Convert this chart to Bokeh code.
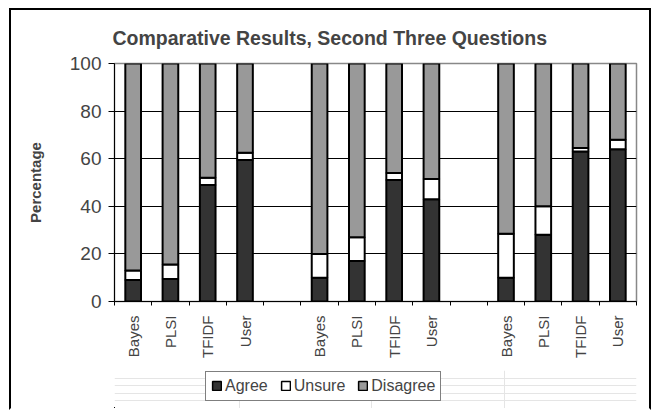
import math
from bokeh.plotting import figure
from bokeh.layouts import column
from bokeh.models import ColumnDataSource, FixedTicker, Legend, LegendItem, Range1d, Grid
from bokeh.embed import file_html
from bokeh.resources import INLINE

methods = ["Bayes", "PLSI", "TFIDF", "User"]
series = ["Agree", "Unsure", "Disagree"]
colors = ["#333333", "#ffffff", "#999999"]
agree_q1 = [9, 9.5, 49, 59.5]
agree_q2 = [10, 17, 51, 43]
agree_q3 = [10, 28, 63, 64]
unsure_q1 = [4, 6, 3, 3]
unsure_q2 = [10, 10, 3, 8.5]
unsure_q3 = [18.5, 12, 1.5, 4]
disagree_q1 = [87, 84.5, 48, 37.5]
disagree_q2 = [80, 73, 46, 48.5]
disagree_q3 = [71.5, 60, 35.5, 32]
y_ticks = [0, 20, 40, 60, 80, 100]

FONT = "Liberation Sans"

xs, labels = [], []
for g in range(3):
    for m, name in enumerate(methods):
        xs.append(g * 5 + m + 0.5)
        labels.append(name)

src = ColumnDataSource(dict(
    x=xs,
    Agree=agree_q1 + agree_q2 + agree_q3,
    Unsure=unsure_q1 + unsure_q2 + unsure_q3,
    Disagree=disagree_q1 + disagree_q2 + disagree_q3,
))

W = 638
p = figure(width=W, height=360, output_backend="svg", toolbar_location=None,
           x_range=Range1d(0, 14), y_range=Range1d(0, 100),
           min_border_left=103, min_border_right=13, min_border_top=53, min_border_bottom=69)

p.vbar_stack(series, x="x", width=0.42, source=src,
             fill_color=colors, line_color="black", line_width=2)

p.title.text = "Comparative Results, Second Three Questions"
p.title.text_font = FONT
p.title.text_font_size = "19.5px"
p.title.text_font_style = "bold"
p.title.align = "left"
p.title.offset = -2
p.title.standoff = 29

p.outline_line_color = "#888888"
p.outline_line_width = 1.5
p.background_fill_color = "white"
p.border_fill_color = "white"

p.xgrid.visible = False
p.ygrid.ticker = FixedTicker(ticks=[20, 40, 60, 80])
p.ygrid.grid_line_color = "black"
p.ygrid.grid_line_width = 1

yax = p.yaxis[0]
yax.ticker = FixedTicker(ticks=y_ticks)
yax.axis_label = "Percentage"
yax.axis_label_text_font = FONT
yax.axis_label_text_font_size = "15px"
yax.axis_label_text_font_style = "bold"
yax.axis_label_standoff = 23
yax.major_label_text_font = FONT
yax.major_label_text_font_size = "19px"
yax.major_label_standoff = 7
yax.major_tick_out = 6
yax.major_tick_in = 0
yax.minor_tick_out = 0
yax.minor_tick_in = 0
yax.axis_line_color = "black"
yax.major_tick_line_color = "black"

xax = p.xaxis[0]
xax.ticker = FixedTicker(ticks=xs, minor_ticks=list(range(0, 15)))
xax.major_label_overrides = {x: l for x, l in zip(xs, labels)}
xax.major_label_orientation = math.pi / 2
xax.major_label_text_font = FONT
xax.major_label_text_font_size = "15px"
xax.major_label_standoff = 10
xax.major_tick_out = 0
xax.major_tick_in = 0
xax.minor_tick_out = 4
xax.minor_tick_in = 0
xax.axis_line_color = "black"
xax.minor_tick_line_color = "black"

# legend strip below the chart (its renderers sit just outside its visible range)
lg = figure(width=W, height=38, output_backend="svg", toolbar_location=None,
            x_range=Range1d(30, 2000), y_range=Range1d(200, 300),
            x_axis_location=None, y_axis_location=None, min_border=0)
lg.renderers = [r for r in lg.renderers if not isinstance(r, Grid)]
lg.outline_line_color = None
lg.background_fill_color = "white"
lg.border_fill_color = "white"
items = []
for name, col in zip(series, colors):
    r = lg.vbar(x="x", top=name, bottom=name, width=0.42, source=src,
                fill_color=col, line_color="black", line_width=1.5)
    items.append(LegendItem(label=name, renderers=[r]))
legend = Legend(items=items, orientation="horizontal", location=(91, 7),
                label_text_font=FONT, label_text_font_size="16px",
                glyph_width=11, glyph_height=11, label_standoff=3, spacing=12,
                padding=5, margin=0, label_height=18,
                border_line_color="black", border_line_width=1,
                background_fill_color="white", background_fill_alpha=1)
lg.add_layout(legend, "center")

layout = column(p, lg, spacing=0,
                styles={"border-left": "2.5px solid black", "border-right": "2.5px solid black",
                        "border-top": "2.5px solid black", "border-bottom": "2.5px solid white",
                        "margin-left": "9px", "margin-top": "7.5px"})

open("out.html", "w").write(file_html(layout, INLINE))
